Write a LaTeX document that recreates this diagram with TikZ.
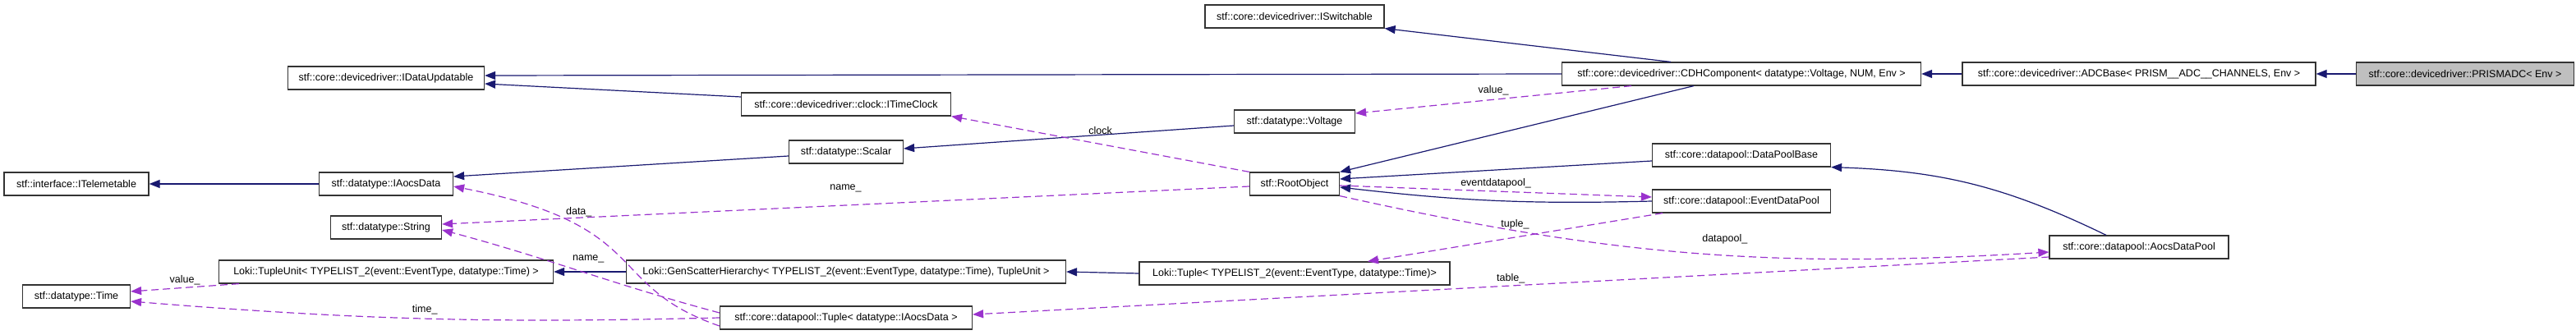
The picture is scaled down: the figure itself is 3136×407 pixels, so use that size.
\documentclass[tikz,border=0pt]{standalone}
\usepackage{fontspec}
\setmainfont{Liberation Sans}
\usepackage{xcolor}
\usepackage{tikz}
\usetikzlibrary{arrows.meta, positioning, calc}

\definecolor{inhblue}{HTML}{191970}
\definecolor{memviolet}{HTML}{9A32CD}

\begin{document}
\begin{tikzpicture}[
  x=1pt, y=1pt,
  cls/.style={rectangle, draw=black!80, line width=1.2pt, fill=white, minimum height=28pt, inner xsep=2pt, font=\fontsize{12.5}{14}\selectfont},
  cur/.style={cls, fill=black!25},
  inh/.style={-{Triangle[length=13pt, width=10pt]}, draw=inhblue, line width=1.2pt},
  mem/.style={-{Triangle[length=13pt, width=10pt]}, draw=memviolet, line width=1.2pt, dash pattern=on 9pt off 5pt},
  lbl/.style={font=\fontsize{12.5}{14}\selectfont, inner sep=1pt}
]
  \useasboundingbox (0,0) rectangle (3136,407);

  \node[cur, minimum width=265] (prismadc) at (3001,317) {stf::core::devicedriver::PRISMADC< Env >};
  \node[cls, minimum width=430] (adcbase) at (2604,317) {stf::core::devicedriver::ADCBase< PRISM\_\_ADC\_\_CHANNELS, Env >};
  \node[cls, minimum width=437] (cdh) at (2120,317) {stf::core::devicedriver::CDHComponent< datatype::Voltage, NUM, Env >};
  \node[cls, minimum width=218] (iswitch) at (1576,387) {stf::core::devicedriver::ISwitchable};
  \node[cls, minimum width=239] (dataupd) at (470,312) {stf::core::devicedriver::IDataUpdatable};
  \node[cls, minimum width=255] (itimeclock) at (1030,280) {stf::core::devicedriver::clock::ITimeClock};
  \node[cls, minimum width=147] (voltage) at (1576,259) {stf::datatype::Voltage};
  \node[cls, minimum width=139] (scalar) at (1030,222) {stf::datatype::Scalar};
  \node[cls, minimum width=109] (rootobj) at (1576,183) {stf::RootObject};
  \node[cls, minimum width=217] (dpbase) at (2120,218) {stf::core::datapool::DataPoolBase};
  \node[cls, minimum width=217] (evdp) at (2120,162) {stf::core::datapool::EventDataPool};
  \node[cls, minimum width=218] (aocsdp) at (2604,106) {stf::core::datapool::AocsDataPool};
  \node[cls, minimum width=176] (itelem) at (93,183) {stf::interface::ITelemetable};
  \node[cls, minimum width=163] (iaocs) at (470,183) {stf::datatype::IAocsData};
  \node[cls, minimum width=135] (string) at (470,130) {stf::datatype::String};
  \node[cls, minimum width=407] (tupleunit) at (470,76) {Loki::TupleUnit< TYPELIST\_2(event::EventType, datatype::Time) >};
  \node[cls, minimum width=131] (time) at (93,46) {stf::datatype::Time};
  \node[cls, minimum width=535] (genscatter) at (1030,76) {Loki::GenScatterHierarchy< TYPELIST\_2(event::EventType, datatype::Time), TupleUnit >};
  \node[cls, minimum width=378] (lokituple) at (1576,74) {Loki::Tuple< TYPELIST\_2(event::EventType, datatype::Time)>};
  \node[cls, minimum width=307] (tupleaocs) at (1030,20) {stf::core::datapool::Tuple< datatype::IAocsData >};

  % inheritance
  \draw[inh] (prismadc) -- (adcbase);
  \draw[inh] (adcbase) -- (cdh);
  \draw[inh] ([xshift=-86pt]cdh.north) -- (iswitch.south east);
  \draw[inh] (cdh.west) -- ([yshift=3pt]dataupd.east);
  \draw[inh] ([xshift=-58pt]cdh.south) -- (rootobj.north east);
  \draw[inh] ([yshift=9pt]itimeclock.west) -- ([yshift=-7pt]dataupd.east);
  \draw[inh] ([yshift=-5pt]voltage.west) -- ([yshift=4pt]scalar.east);
  \draw[inh] ([yshift=-5pt]scalar.west) -- ([yshift=9pt]iaocs.east);
  \draw[inh] (iaocs) -- (itelem);
  \draw[inh] ([yshift=-7pt]dpbase.west) -- ([yshift=6pt]rootobj.east);
  \draw[inh] (evdp.west) to[bend left=4] ([yshift=-4pt]rootobj.east);
  \draw[inh] ([xshift=-40pt]aocsdp.north) to[bend right=12] (dpbase.south east);
  \draw[inh] (genscatter) -- (tupleunit);
  \draw[inh] (lokituple.west) -- (genscatter.east);

  % members
  \draw[mem] ([xshift=-134pt]cdh.south) -- node[lbl, above=4pt] {value\_} ([yshift=10pt]voltage.east);
  \draw[mem] (rootobj.north west) -- node[lbl, above=10pt] {clock} (itimeclock.south east);
  \draw[mem] ([yshift=-3pt]rootobj.west) -- node[lbl, above=14pt] {name\_} ([yshift=4pt]string.east);
  \draw[mem] ([yshift=-2pt]rootobj.east) -- node[lbl, above=2pt] {eventdatapool\_} ([yshift=5pt]evdp.west);
  \draw[mem] ([xshift=-96pt]evdp.south) -- node[lbl, above=8pt] {tuple\_} ([xshift=89pt]lokituple.north);
  \draw[mem] (rootobj.south east) to[bend right=8] node[lbl, pos=0.55, above=12pt] {datapool\_} ([yshift=-6pt]aocsdp.west);
  \draw[mem] ([yshift=-12pt]aocsdp.west) -- node[lbl, above=1pt] {table\_} ([yshift=4pt]tupleaocs.east);
  \draw[mem] ([yshift=-10pt]tupleaocs.west) .. controls +(-142,49) and +(245,-48) .. node[lbl, pos=0.75, above right=2pt] {data\_} ([yshift=-3pt]iaocs.east);
  \draw[mem] ([yshift=6pt]tupleaocs.west) to[out=165, in=-15] node[lbl, pos=0.47, above=12pt] {name\_} ([yshift=-3pt]string.east);
  \draw[mem] (tupleaocs.west) to[bend left=3] node[lbl, above=3pt] {time\_} ([yshift=-6pt]time.east);
  \draw[mem] ([xshift=-179pt]tupleunit.south) -- node[lbl, above=2pt] {value\_} ([yshift=6pt]time.east);
\end{tikzpicture}
\end{document}
